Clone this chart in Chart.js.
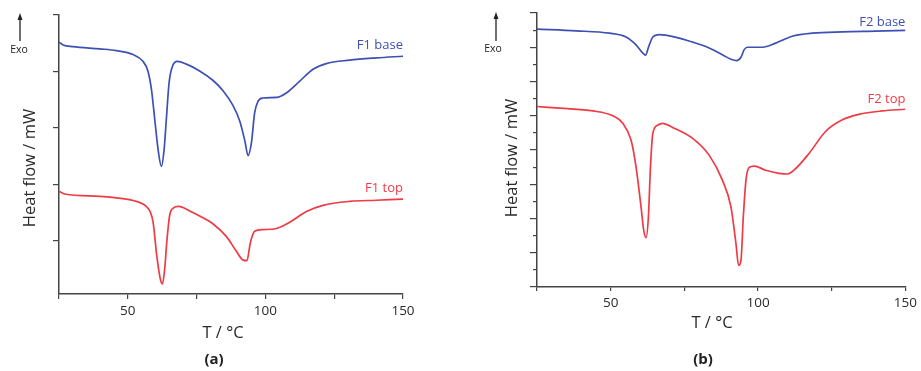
<!DOCTYPE html>
<html>
<head>
<meta charset="utf-8">
<script src="https://cdn.jsdelivr.net/npm/chart.js@4.4.1/dist/chart.umd.min.js"></script>
<style>
  html, body { margin: 0; padding: 0; background: #fff; }
  #wrap { position: relative; width: 921px; height: 371px; }
  #wrap canvas { position: absolute; top: 0; }
</style>
</head>
<body>
<div id="wrap">
  <canvas id="chartA" width="460" height="371" style="left:0"></canvas>
  <canvas id="chartB" width="461" height="371" style="left:460px"></canvas>
</div>
<script>
// --- データ ---
// (a) F1 base
const f1BaseT  = [25, 26.5, 30, 39.8, 45.8, 51.9, 55.5, 57.3, 58.6, 59.8, 61.0, 62.2, 63.2, 64.0, 65.0, 66.2, 68.0, 71.3, 76.1, 81.0, 84.6, 88.2, 90.7, 92.5, 93.7, 94.9, 96.1, 97.3, 99.1, 104.0, 107.6, 112.5, 117.3, 122.1, 130.6, 140.3, 150];
const f1BaseHF = [4.52, 4.47, 4.44, 4.40, 4.37, 4.30, 4.18, 4.01, 3.68, 3.15, 2.62, 2.32, 2.62, 3.15, 3.80, 4.09, 4.18, 4.13, 4.01, 3.84, 3.66, 3.40, 3.12, 2.78, 2.51, 2.73, 3.27, 3.47, 3.53, 3.54, 3.62, 3.83, 4.04, 4.14, 4.20, 4.24, 4.27];
// (a) F1 top
const f1TopT  = [25, 27.1, 39.8, 49.5, 54.3, 56.5, 58.0, 59.2, 60.5, 61.8, 62.6, 63.4, 64.2, 65.2, 66.5, 68.5, 72.5, 76.1, 81.0, 85.8, 89.4, 91.9, 93.3, 94.5, 96.1, 99.1, 104.0, 108.8, 114.9, 120.9, 130.6, 140.3, 150];
const f1TopHF = [1.88, 1.83, 1.79, 1.74, 1.68, 1.62, 1.53, 1.33, 0.75, 0.33, 0.24, 0.50, 1.00, 1.45, 1.58, 1.61, 1.53, 1.44, 1.30, 1.08, 0.82, 0.66, 0.65, 0.96, 1.17, 1.20, 1.22, 1.33, 1.52, 1.63, 1.70, 1.72, 1.74];
// (b) F2 base
const f2BaseT  = [25, 38.3, 49.6, 55.2, 58.6, 60.9, 61.8, 62.9, 64.3, 66.5, 72.2, 77.8, 83.4, 87.9, 90.8, 92.7, 94.2, 95.3, 96.4, 101.5, 106.0, 111.6, 118.4, 128.6, 139.9, 150];
const f2BaseHF = [7.53, 7.48, 7.41, 7.30, 7.07, 6.83, 6.77, 7.02, 7.30, 7.37, 7.29, 7.15, 6.98, 6.78, 6.65, 6.61, 6.71, 6.93, 7.00, 7.00, 7.12, 7.32, 7.41, 7.45, 7.47, 7.49];
// (b) F2 top
const f2TopT  = [25, 32.7, 44.0, 50.7, 54.1, 56.9, 58.6, 60.3, 61.2, 62.0, 62.8, 63.5, 64.3, 66.0, 67.6, 71.0, 77.8, 83.4, 87.9, 90.8, 92.5, 93.4, 94.2, 95.0, 95.9, 97.0, 98.7, 102.6, 107.1, 110.0, 112.8, 117.3, 122.9, 128.6, 134.2, 142.1, 150];
const f2TopHF = [5.27, 5.22, 5.14, 5.00, 4.78, 4.29, 3.51, 2.34, 1.66, 1.44, 2.05, 3.51, 4.49, 4.73, 4.78, 4.66, 4.34, 3.85, 3.12, 2.34, 1.27, 0.63, 0.78, 2.05, 3.12, 3.49, 3.53, 3.41, 3.32, 3.30, 3.46, 3.90, 4.54, 4.88, 5.04, 5.14, 5.19];

// 軸の目盛り
const xTickLabels = [50, 100, 150];
const yTicksA = [1, 2, 3, 4, 5];
const yTicksB = [0, 1, 2, 3, 4, 5, 6, 7, 8];
const yMinorB = [0.5, 1.5, 2.5, 3.5, 4.5, 5.5, 6.5, 7.5];

const BLUE = '#3e4fb5';
const RED = '#ee3b45';
const AXIS = '#444';
const TEXT = '#2a2a2a';
const FONT = '"Open Sans", "DejaVu Sans", sans-serif';

function pts(xs, ys) {
    return xs.map((x, i) => ({ x: x, y: ys[i] }));
}

// 注記（Exo矢印・軸タイトル・系列名・パネル記号）
const notes = {
    id: 'notes',
    afterDraw(chart, args, o) {
        const ctx = chart.ctx;
        const x = chart.scales.x, y = chart.scales.y;
        ctx.save();
        // Exo 矢印
        ctx.strokeStyle = '#222';
        ctx.fillStyle = '#222';
        ctx.lineWidth = 1.3;
        ctx.beginPath();
        ctx.moveTo(o.arrowX, o.arrowBottom);
        ctx.lineTo(o.arrowX, o.arrowTop + 5);
        ctx.stroke();
        ctx.beginPath();
        ctx.moveTo(o.arrowX, o.arrowTop);
        ctx.lineTo(o.arrowX - 2.5, o.arrowTop + 7);
        ctx.lineTo(o.arrowX + 2.5, o.arrowTop + 7);
        ctx.closePath();
        ctx.fill();
        ctx.font = '10.5px ' + FONT;
        ctx.textAlign = 'center';
        ctx.textBaseline = 'middle';
        ctx.fillText('Exo', o.exoX, o.exoY);

        // 軸タイトル
        ctx.fillStyle = TEXT;
        ctx.font = '16.5px ' + FONT;
        ctx.fillText('T / °C', o.xTitleX, o.xTitleY);
        ctx.save();
        ctx.translate(o.yTitleX, o.yTitleY);
        ctx.rotate(-Math.PI / 2);
        ctx.fillText('Heat flow / mW', 0, 0);
        ctx.restore();

        // 系列名
        ctx.font = '13px ' + FONT;
        ctx.textAlign = 'right';
        o.labels.forEach(l => {
            ctx.fillStyle = l.color;
            ctx.fillText(l.text, x.getPixelForValue(l.x), y.getPixelForValue(l.y));
        });

        // (a) / (b)
        ctx.fillStyle = '#222';
        ctx.font = 'bold 15px ' + FONT;
        ctx.textAlign = 'center';
        ctx.fillText(o.tag, o.tagX, o.tagY);
        ctx.restore();
    }
};

function lineDs(data, color) {
    return {
        data: data,
        borderColor: color,
        borderWidth: 1.7,
        pointRadius: 0,
        fill: false,
        cubicInterpolationMode: 'monotone'
    };
}

function xScale(height, tickLen) {
    return {
        type: 'linear',
        min: 25,
        max: 150,
        afterFit: s => { s.height = height; },
        ticks: {
            stepSize: 25,
            autoSkip: false,
            maxRotation: 0,
            padding: 4,
            color: TEXT,
            font: { size: 13.5, family: FONT },
            callback: v => xTickLabels.includes(v) ? String(v) : ''
        },
        grid: { drawOnChartArea: false, tickLength: tickLen, color: AXIS, lineWidth: 1.2 },
        border: { color: AXIS, width: 1.5 }
    };
}

// --- (a) ---
new Chart(document.getElementById('chartA'), {
    type: 'line',
    data: {
        datasets: [
            lineDs(pts(f1BaseT, f1BaseHF), BLUE),
            lineDs(pts(f1TopT, f1TopHF), RED)
        ]
    },
    plugins: [notes],
    options: {
        responsive: false,
        animation: false,
        layout: { padding: { top: 15, right: 57, left: 0, bottom: 0 } },
        plugins: {
            legend: { display: false },
            tooltip: { enabled: false },
            notes: {
                arrowX: 20, arrowTop: 13, arrowBottom: 41,
                exoX: 19, exoY: 50,
                xTitleX: 223, xTitleY: 333,
                yTitleX: 30, yTitleY: 168,
                tag: '(a)', tagX: 214, tagY: 360,
                labels: [
                    { text: 'F1 base', x: 150, y: 4.47, color: BLUE },
                    { text: 'F1 top', x: 150, y: 1.93, color: RED }
                ]
            }
        },
        scales: {
            x: xScale(77, 5),
            y: {
                min: 0.06,
                max: 5,
                afterBuildTicks: s => { s.ticks = yTicksA.map(v => ({ value: v })); },
                afterFit: s => { s.width = 59; },
                ticks: { display: false },
                grid: { drawOnChartArea: false, tickLength: 6, color: AXIS, lineWidth: 1.2 },
                border: { color: AXIS, width: 1.5 }
            }
        }
    }
});

// --- (b) ---
new Chart(document.getElementById('chartB'), {
    type: 'line',
    data: {
        datasets: [
            lineDs(pts(f2BaseT, f2BaseHF), BLUE),
            lineDs(pts(f2TopT, f2TopHF), RED)
        ]
    },
    plugins: [notes],
    options: {
        responsive: false,
        animation: false,
        layout: { padding: { top: 13, right: 14, left: 0, bottom: 0 } },
        plugins: {
            legend: { display: false },
            tooltip: { enabled: false },
            notes: {
                arrowX: 36, arrowTop: 12, arrowBottom: 41,
                exoX: 33, exoY: 49,
                xTitleX: 252, xTitleY: 323,
                yTitleX: 52, yTitleY: 158,
                tag: '(b)', tagX: 243, tagY: 360,
                labels: [
                    { text: 'F2 base', x: 150, y: 7.73, color: BLUE },
                    { text: 'F2 top', x: 150, y: 5.49, color: RED }
                ]
            }
        },
        scales: {
            x: xScale(84, 4),
            y: {
                min: 0,
                max: 8,
                weight: 1,
                afterBuildTicks: s => { s.ticks = yTicksB.map(v => ({ value: v })); },
                afterFit: s => { s.width = 77; },
                ticks: { display: false },
                grid: { drawOnChartArea: false, tickLength: 7, color: AXIS, lineWidth: 1.2 },
                border: { color: AXIS, width: 1.5 }
            },
            yMinor: {
                type: 'linear',
                axis: 'y',
                position: 'left',
                min: 0,
                max: 8,
                weight: 0,
                afterBuildTicks: s => { s.ticks = yMinorB.map(v => ({ value: v })); },
                afterFit: s => { s.width = 0; },
                ticks: { display: false },
                grid: { drawOnChartArea: false, tickLength: 4, color: AXIS, lineWidth: 1.2 },
                border: { display: false }
            }
        }
    }
});
</script>
</body>
</html>
